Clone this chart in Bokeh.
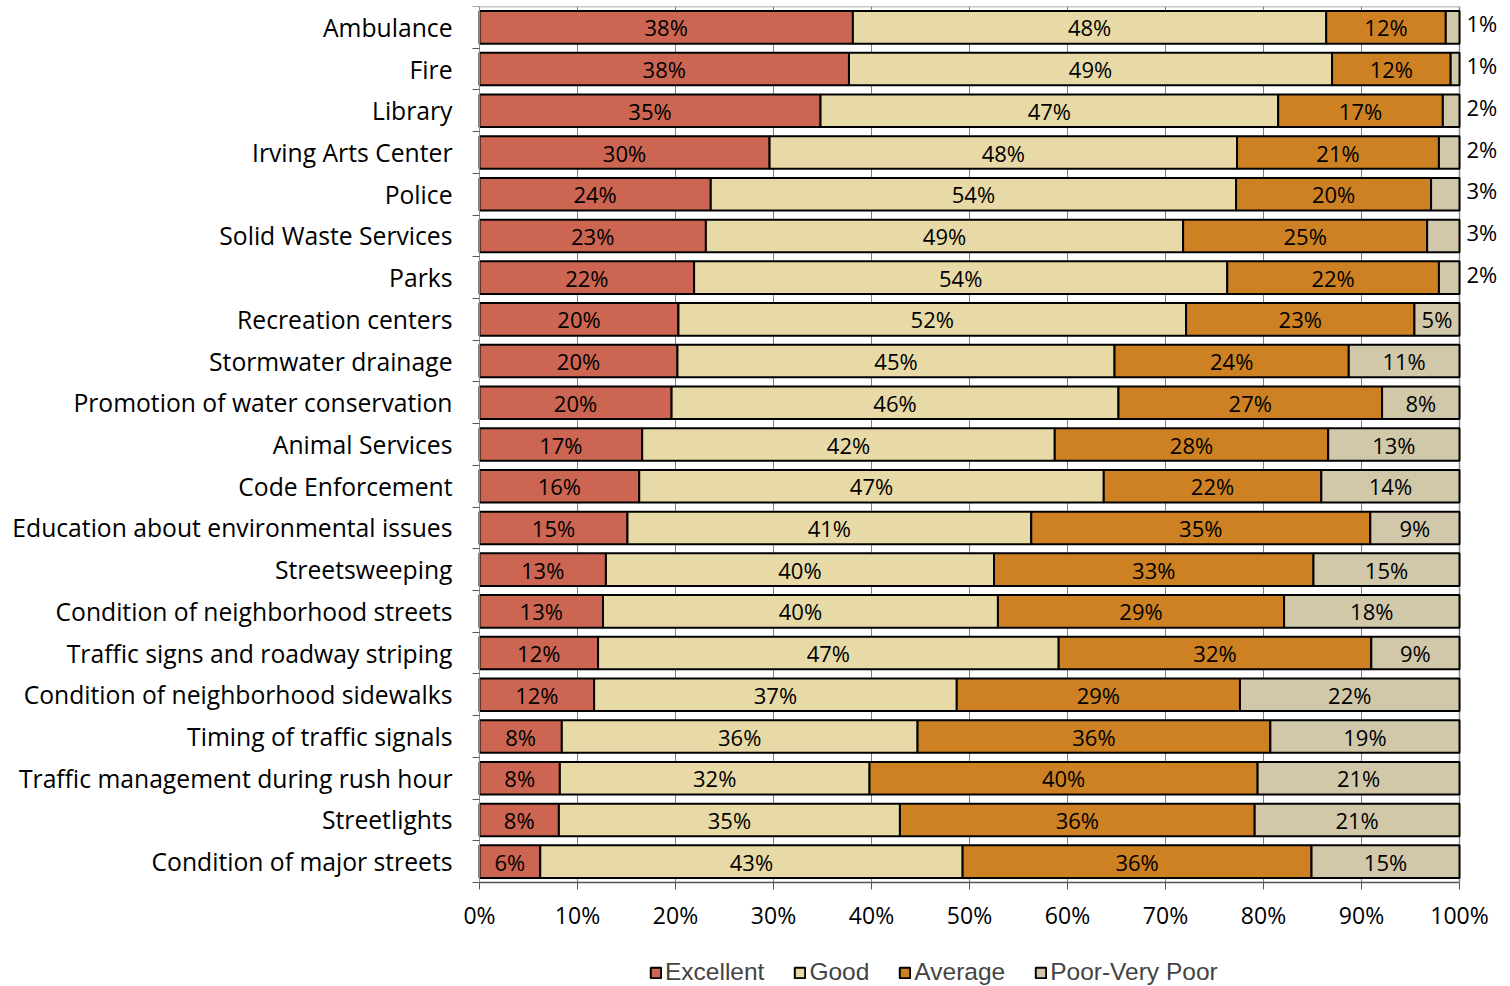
import pandas as pd
from bokeh.plotting import figure
from bokeh.models import (ColumnDataSource, LabelSet, FixedTicker, Legend, LegendItem,
                          Range1d, PrintfTickFormatter)
from bokeh.core.properties import value
from bokeh.embed import file_html
from bokeh.resources import INLINE

categories = ["Ambulance", "Fire", "Library", "Irving Arts Center", "Police",
              "Solid Waste Services", "Parks", "Recreation centers", "Stormwater drainage",
              "Promotion of water conservation", "Animal Services", "Code Enforcement",
              "Education about environmental issues", "Streetsweeping",
              "Condition of neighborhood streets", "Traffic signs and roadway striping",
              "Condition of neighborhood sidewalks", "Timing of traffic signals",
              "Traffic management during rush hour", "Streetlights", "Condition of major streets"]
excellent = [38.1, 37.7, 34.8, 29.6, 23.6, 23.1, 21.9, 20.3, 20.2, 19.6, 16.6, 16.3, 15.1, 12.9,
             12.6, 12.1, 11.7, 8.4, 8.2, 8.1, 6.2]
good = [48.3, 49.3, 46.7, 47.7, 53.6, 48.7, 54.4, 51.8, 44.6, 45.6, 42.1, 47.4, 41.2, 39.6,
        40.3, 47.0, 37.0, 36.3, 31.6, 34.8, 43.1]
average = [12.2, 12.1, 16.8, 20.6, 19.9, 24.9, 21.6, 23.3, 23.9, 26.9, 27.9, 22.2, 34.6, 32.6,
           29.2, 31.9, 28.9, 36.0, 39.6, 36.2, 35.6]
poor = [1.4, 0.9, 1.7, 2.1, 2.9, 3.3, 2.1, 4.6, 11.3, 7.9, 13.4, 14.1, 9.1, 14.9,
        17.9, 9.0, 22.4, 19.3, 20.6, 20.9, 15.1]
series = ["Excellent", "Good", "Average", "Poor-Very Poor"]
colors = ["#CC6551", "#E8DAA6", "#CD8122", "#D1C8AA"]
x_ticks = [0, 10, 20, 30, 40, 50, 60, 70, 80, 90, 100]

n = len(categories)
ypos = [n - 1 - i for i in range(n)]
keys = ["exc", "good", "avg", "poor"]
df = pd.DataFrame({"cat": categories, "y": ypos, "exc": excellent, "good": good,
                   "avg": average, "poor": poor})
src = ColumnDataSource(df)

# The frame covers the whole canvas; the plot area (0..100 %) sits inside it and the
# axes are drawn at fixed locations so that labels, outside values and legend all fit.
FRAME_W, FRAME_H = 1510, 980
LEFT_PX, PLOT_W = 479, 980
ROW_PX = 876 / n
XMIN = -LEFT_PX * 100 / PLOT_W
XMAX = (FRAME_W - LEFT_PX) * 100 / PLOT_W
YMIN = (n - 0.5) - FRAME_H / ROW_PX
p = figure(frame_width=FRAME_W, frame_height=FRAME_H, x_range=Range1d(XMIN, XMAX),
           y_range=Range1d(YMIN, n - 0.5), output_backend="svg", toolbar_location=None,
           min_border_left=0, min_border_right=0, min_border_top=6, min_border_bottom=0)
p.background_fill_color = "white"
p.border_fill_color = "white"
p.outline_line_color = None

# vertical gridlines (plot-area only)
p.segment(x0=x_ticks[1:-1], y0=[-0.5] * (len(x_ticks) - 2), x1=x_ticks[1:-1],
          y1=[n - 0.5] * (len(x_ticks) - 2), line_color="#7F7F7F", line_width=1)
# plot-area border (top and right)
p.segment(x0=[x_ticks[0], x_ticks[-1]], y0=[n - 0.5, -0.5], x1=[x_ticks[-1], x_ticks[-1]],
          y1=[n - 0.5, n - 0.5], line_color="#8C8C8C", line_width=1.5)

renderers = p.hbar_stack(keys, y="y", height=0.78, color=colors, line_color="black",
                         line_width=2, source=src)

# labels
cum = df[keys].cumsum(axis=1)
inside_x, inside_y, inside_t = [], [], []
out_x, out_y, out_t = [], [], []
for k in keys:
    for i in range(n):
        v = df[k][i]
        mid = cum[k][i] - v / 2
        txt = f"{v:.0f}%"
        if k == "poor" and v < 4:
            out_x.append(cum[k][i]); out_y.append(df["y"][i]); out_t.append(txt)
        else:
            inside_x.append(mid); inside_y.append(df["y"][i]); inside_t.append(txt)

lab_in = LabelSet(x="x", y="y", text="t",
                  source=ColumnDataSource(dict(x=inside_x, y=inside_y, t=inside_t)),
                  text_align="center", text_baseline="middle", text_font=value("Open Sans"),
                  text_font_size="22px", text_color="black")
lab_out = LabelSet(x="x", y="y", text="t",
                   source=ColumnDataSource(dict(x=out_x, y=out_y, t=out_t)),
                   text_align="left", text_baseline="middle", text_font=value("Open Sans"),
                   text_font_size="22px", text_color="black", x_offset=7, y_offset=4)
p.add_layout(lab_in)
p.add_layout(lab_out)

# axes
p.xaxis.fixed_location = -0.5
p.xaxis.ticker = FixedTicker(ticks=x_ticks)
p.xaxis.bounds = (x_ticks[0], x_ticks[-1])
p.xaxis.formatter = PrintfTickFormatter(format="%d%%")
p.xaxis.major_tick_out = 7
p.xaxis.major_tick_in = 0
p.xaxis.minor_tick_line_color = None
p.xaxis.major_tick_line_color = "#555555"
p.xaxis.axis_line_color = "#555555"
p.xaxis.axis_line_width = 1.5
p.xaxis.major_label_text_font = "Open Sans"
p.xaxis.major_label_text_font_size = "23px"
p.xaxis.major_label_text_color = "black"
p.xaxis.major_label_standoff = 9

p.yaxis.fixed_location = x_ticks[0]
p.yaxis.ticker = FixedTicker(ticks=ypos, minor_ticks=[i - 0.5 for i in range(n + 1)])
p.yaxis.bounds = (-0.5, n - 0.5)
p.yaxis.major_label_overrides = {y: c for y, c in zip(ypos, categories)}
p.yaxis.major_tick_line_color = None
p.yaxis.major_tick_out = 0
p.yaxis.major_tick_in = 0
p.yaxis.minor_tick_out = 7
p.yaxis.minor_tick_in = 0
p.yaxis.minor_tick_line_color = "#555555"
p.yaxis.axis_line_color = "#8C8C8C"
p.yaxis.major_label_text_font = "Open Sans"
p.yaxis.major_label_text_font_size = "24.7px"
p.yaxis.major_label_text_color = "black"
p.yaxis.major_label_standoff = 20

p.xgrid.grid_line_color = None
p.ygrid.grid_line_color = None

legend = Legend(items=[LegendItem(label=s, renderers=[r]) for s, r in zip(series, renderers)],
                orientation="horizontal", location=(649, 0))
legend.label_text_font = "Liberation Sans"
legend.label_text_font_size = "24.5px"
legend.glyph_width = 13
legend.glyph_height = 13
legend.label_standoff = 3
legend.spacing = 29
legend.padding = 0
legend.margin = 0
legend.border_line_color = None
legend.background_fill_alpha = 0
p.add_layout(legend, "center")

open("out.html", "w").write(file_html(p, INLINE))
